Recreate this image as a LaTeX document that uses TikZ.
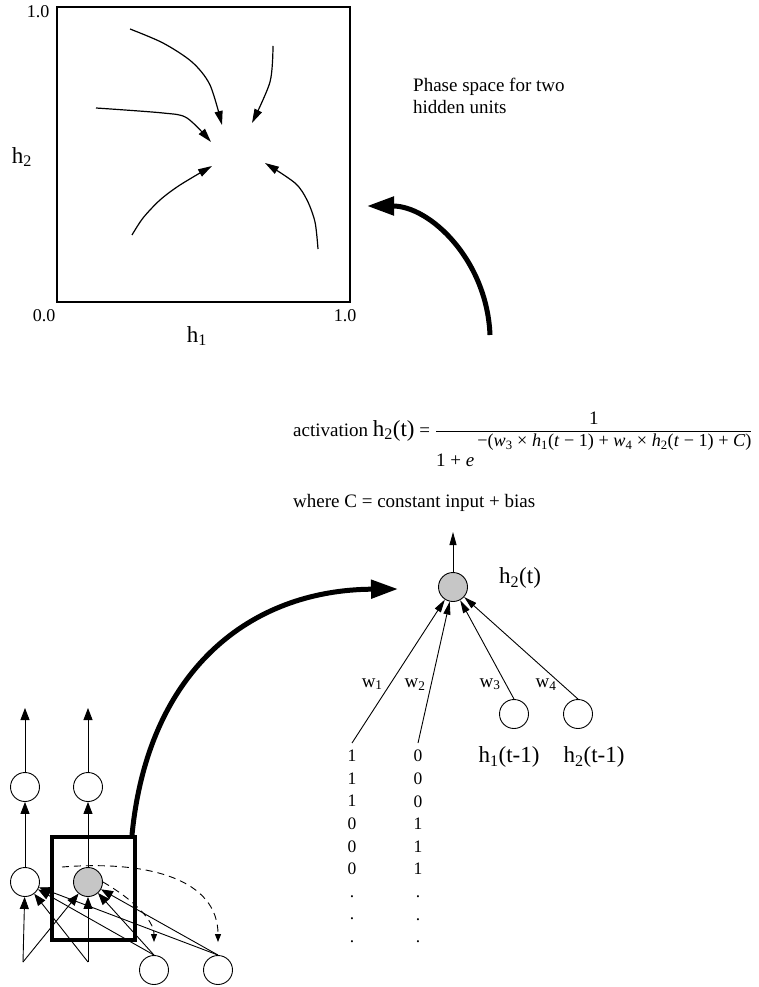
\documentclass[tikz,border=0pt]{standalone}
\usepackage{fontspec}
\setmainfont{Liberation Serif}
\usepackage{amsmath}
\usetikzlibrary{arrows.meta,positioning,calc}

\begin{document}
\begin{tikzpicture}[
    x=1pt, y=-1pt,
    unit/.style={circle, draw=black, line width=0.9pt, minimum size=29pt, inner sep=0pt},
    active/.style={unit, fill=gray!45},
    link/.style={line width=0.9pt, -{Triangle[length=13pt,width=7pt]}},
    smalllink/.style={line width=0.9pt, -{Triangle[length=12pt,width=9pt]}},
    copyline/.style={line width=0.9pt, dash pattern=on 7pt off 5pt, -{Triangle[length=8pt,width=6pt]}},
    flow/.style={line width=1.2pt, -{Triangle[length=14pt,width=8pt]}},
    bigarrow/.style={line width=5pt, -{Triangle[length=27pt,width=18pt]}},
    lab/.style={font=\fontsize{23}{26}\selectfont, inner sep=1pt},
    wlab/.style={font=\fontsize{19}{22}\selectfont, inner sep=1pt},
    axis/.style={font=\fontsize{18}{20}\selectfont, inner sep=1pt},
    caption/.style={font=\fontsize{19}{22}\selectfont, align=left, inner sep=0pt},
    digits/.style={font=\fontsize{17.5}{22.6}\selectfont, align=center, inner xsep=0pt, inner ysep=7pt, anchor=north}
]
\useasboundingbox (0,0) rectangle (758,987);

% phase space
\node (phase) [draw, line width=1.5pt, minimum width=293pt, minimum height=295pt, inner sep=0pt] at (203.5,154.5) {};
\node (ymax) [axis] at (38,12) {1.0};
\node (xmin) [axis] at (44,316) {0.0};
\node (xmax) [axis] at (345,316) {1.0};
\node (xlab) [lab] at (197,336) {h\textsubscript{1}};
\node (ylab) [lab] at (22,157) {h\textsubscript{2}};

\draw [flow] plot[smooth] coordinates {(130,29) (163,43) (192,62) (210,85) (222,125)};
\draw [flow] plot[smooth] coordinates {(273,46) (270,82) (252,123)};
\draw [flow] plot[smooth] coordinates {(96,108) (163,113) (187,118) (211,142)};
\draw [flow] plot[smooth] coordinates {(132,235) (143,218) (160,200) (180,185) (212,166)};
\draw [flow] plot[smooth] coordinates {(318,249) (315,222) (307,200) (295,183) (265,163)};

\node (note) [caption, anchor=north west] at (413,78) {Phase space for two\\hidden units};

\coordinate (loopstart) at (490,335);
\coordinate (looptip) at (367,206);
\draw [bigarrow] (loopstart) .. controls (487,260) and (430,206) .. (looptip);

% activation rule
\node (act) [caption, anchor=base west] at (293,436) {activation {\fontsize{23}{26}\selectfont h\textsubscript{2}(t)} = $\dfrac{\text{1}}{\text{1 + \textit{e}\,\raisebox{20pt}{\fontsize{18.2}{20}\selectfont −(\textit{w}\textsubscript{3} × \textit{h}\textsubscript{1}(\textit{t} − 1) + \textit{w}\textsubscript{4} × \textit{h}\textsubscript{2}(\textit{t} − 1) + \textit{C})}}}$};
\node (where) [caption, anchor=base west] at (293,507) {where C = constant input + bias};

% unit h2 with its inputs
\node (hid) [active] at (453,587) {};
\coordinate (hidout) at (453,532);
\node (hidlab) [lab, right=30pt of hid, yshift=9pt] {h\textsubscript{2}(t)};
\node (ctxa) [unit] at (514,714) {};
\node (ctxb) [unit] at (578,714) {};
\node (ctxalab) [lab] at (509,757) {h\textsubscript{1}(t-1)};
\node (ctxblab) [lab] at (594,757) {h\textsubscript{2}(t-1)};
\node (col1) [digits] at (352,743) {1\\1\\1\\0\\0\\0\\.\\.\\.};
\node (col2) [digits] at (418,743) {0\\0\\0\\1\\1\\1\\.\\.\\.};

\draw [link] (hid) -- (hidout);
\draw [link] (col1.north) -- node[wlab, pos=0.41, left=6pt] {w\textsubscript{1}} (hid);
\draw [link] (col2.north) -- node[wlab, pos=0.41, left=4pt] {w\textsubscript{2}} (hid);
\draw [link] (ctxa.north) -- node[wlab, pos=0.15, left=4pt] {w\textsubscript{3}} (hid);
\draw [link] (ctxb.north) -- node[wlab, pos=0.14, left=4pt] {w\textsubscript{4}} (hid);

% small recurrent net
\node (outa) [unit] at (25,787) {};
\node (outb) [unit] at (88,787) {};
\node (hida) [unit] at (25,882) {};
\node (hidb) [active] at (88,882) {};
\node (ctxc) [unit] at (154,970) {};
\node (ctxd) [unit] at (218,970) {};
\coordinate (outatip) at (25,708);
\coordinate (outbtip) at (88,708);
\coordinate (ina) at (23,962);
\coordinate (inb) at (88,962);
\coordinate (copystart) at (62,867);

\draw [smalllink] (outa) -- (outatip);
\draw [smalllink] (outb) -- (outbtip);
\draw [smalllink] (hida) -- (outa);
\draw [smalllink] (hidb) -- (outb);
\draw [smalllink] (ina) -- (hida);
\draw [smalllink] (ina) -- (hidb);
\draw [smalllink] (inb) -- (hidb);
\draw [smalllink] (inb) -- (hida);
\draw [smalllink] (ctxc.north) -- (hida);
\draw [smalllink] (ctxc.north) -- (hidb);
\draw [smalllink] (ctxd.north) -- (hida);
\draw [smalllink] (ctxd.north) -- (hidb);
\draw [copyline, shorten >=13pt] (hidb.east) to[out=-30, in=90] (ctxc.north);
\draw [copyline, shorten >=13pt] (copystart) .. controls (150,860) and (218,880) .. (ctxd.north);

\node (zoombox) [draw, line width=4pt, minimum width=83pt, minimum height=103pt, inner sep=0pt] at (93.5,888.5) {};
\coordinate (zoomtip) at (398,589);
\draw [bigarrow] ([xshift=-5pt]zoombox.north east) .. controls (148,670) and (250,590) .. (zoomtip);

\end{tikzpicture}
\end{document}
